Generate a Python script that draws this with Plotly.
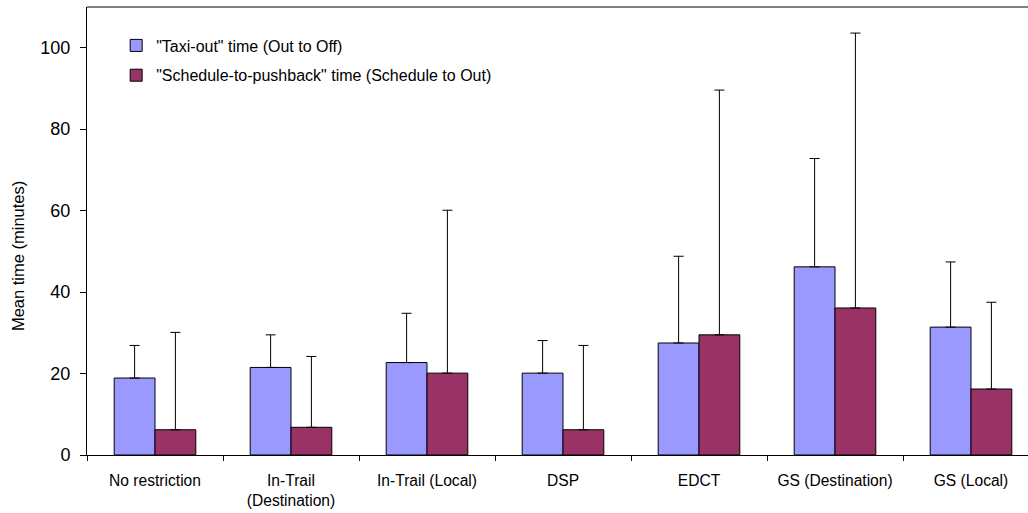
import plotly.graph_objects as go

# Restriction types along the x axis
categories = [
    "No restriction",
    "In-Trail<br>(Destination)",
    "In-Trail (Local)",
    "DSP",
    "EDCT",
    "GS (Destination)",
    "GS (Local)",
]

# Mean times (minutes) and their one-sided spread (minutes)
taxi_out_mean = [18.9, 21.5, 22.7, 20.1, 27.5, 46.2, 31.4]
taxi_out_sd = [8.0, 8.0, 12.1, 8.0, 21.3, 26.6, 16.0]
sched_push_mean = [6.2, 6.8, 20.1, 6.2, 29.5, 36.1, 16.2]
sched_push_sd = [23.9, 17.4, 40.0, 20.7, 60.1, 67.5, 21.3]

series_names = [
    "\"Taxi-out\" time (Out to Off)",
    "\"Schedule-to-pushback\" time (Schedule to Out)",
]

FONT = "Arial, Liberation Sans, sans-serif"

fig = go.Figure()


def add_series(name, means, spread, color, group):
    fig.add_trace(
        go.Bar(
            x=categories,
            y=means,
            name=name,
            legendgroup=group,
            marker=dict(color=color, line=dict(color="black", width=1)),
            error_y=dict(
                type="data",
                symmetric=False,
                array=spread,
                arrayminus=[0] * len(spread),
                color="black",
                thickness=1,
                width=5,
            ),
        )
    )


add_series(series_names[0], taxi_out_mean, taxi_out_sd, "#9999FF", "a")
add_series(series_names[1], sched_push_mean, sched_push_sd, "#993366", "b")

left, right, top, bottom = 87, 0, 7, 58
width, height = 1028, 513
cat_px = 136
plot_w = width - left - right

fig.update_layout(
    width=width,
    height=height,
    margin=dict(l=left, r=right, t=top, b=bottom, pad=0),
    paper_bgcolor="white",
    plot_bgcolor="white",
    barmode="group",
    bargap=0.4,
    bargroupgap=0,
    font=dict(family=FONT, color="black"),
    showlegend=True,
    legend=dict(
        x=0.031,
        y=0.952,
        xanchor="left",
        yanchor="top",
        bgcolor="rgba(0,0,0,0)",
        font=dict(size=16, family=FONT),
        tracegroupgap=6,
        itemwidth=30,
    ),
    xaxis=dict(
        type="category",
        range=[-0.5, -0.5 + plot_w / cat_px],
        showline=True,
        linecolor="black",
        linewidth=1,
        ticks="outside",
        tickson="boundaries",
        ticklen=5,
        tickcolor="black",
        tickfont=dict(size=15.6, family=FONT),
        ticklabelstandoff=11,
        showgrid=False,
        zeroline=False,
    ),
    yaxis=dict(
        range=[0, 110],
        dtick=20,
        showline=True,
        linecolor="black",
        linewidth=1,
        ticks="outside",
        ticklen=6,
        tickcolor="black",
        tickfont=dict(size=18, family=FONT),
        ticklabelstandoff=6,
        showgrid=False,
        zeroline=False,
    ),
    shapes=[
        dict(
            type="line",
            xref="paper",
            yref="paper",
            x0=0,
            x1=1,
            y0=1,
            y1=1,
            line=dict(color="#808080", width=2),
        )
    ],
    annotations=[
        dict(
            text="Mean time (minutes)",
            textangle=-90,
            xref="paper",
            yref="paper",
            x=-(left - 18) / plot_w,
            y=0.444,
            xanchor="center",
            yanchor="middle",
            showarrow=False,
            font=dict(size=16.5, family=FONT),
        )
    ],
)

fig.write_html("out.html")
